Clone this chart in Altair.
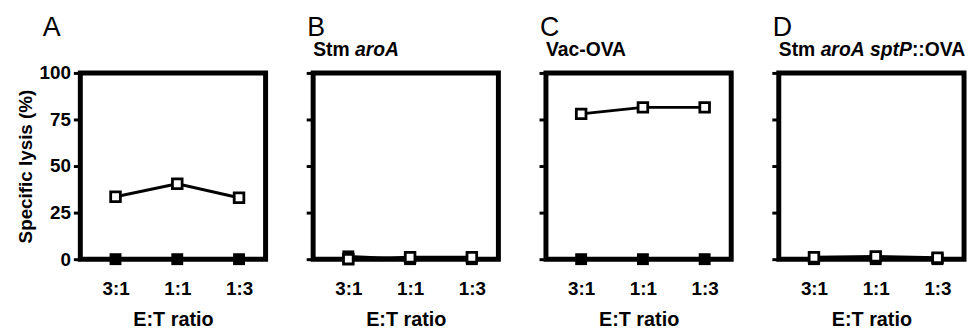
import altair as alt
import pandas as pd

ratios = ["3:1", "1:1", "1:3"]
panel_letters = ["A", "B", "C", "D"]
open_A = [33.5, 40.5, 33]
filled_A = [0, 0, 0]
open_B = [0, 1, 1]
filled_B = [1.5, 0, 0]
open_C = [78, 81.5, 81.5]
filled_C = [0, 0, 0]
open_D = [1, 1.5, 0.8]
filled_D = [0, 0, 0]
y_ticks = [0, 25, 50, 75, 100]

# subtitle pieces: (text, italic)
subtitles = [
    [],
    [("Stm ", False), ("aroA", True)],
    [("Vac-OVA", False)],
    [("Stm ", False), ("aroA", True), (" ", False), ("sptP", True), ("::OVA", False)],
]

FONT = "Liberation Sans"
SUB_FS = 19.5
W, H = 187, 188

# Arial/Liberation Sans Bold advance widths (per 1000 em)
ADV = {"S": 667, "t": 333, "m": 889, " ": 278, "a": 556, "r": 389, "o": 611,
       "A": 722, "s": 556, "p": 611, "P": 667, ":": 333, "O": 778, "V": 667,
       "c": 556, "-": 333}


def text_width(s, fs):
    return sum(ADV.get(ch, 556) for ch in s) / 1000 * fs


label_expr = "[" + ",".join("'%s'" % r for r in ratios) + "][datum.value]"


def panel(k, open_vals, filled_vals):
    rows = []
    for i, r in enumerate(ratios):
        rows.append({"idx": i, "ratio": r, "series": "filled", "value": filled_vals[i]})
        rows.append({"idx": i, "ratio": r, "series": "open", "value": open_vals[i]})
    df = pd.DataFrame(rows)
    first = k == 0
    x = alt.X("idx:Q",
              scale=alt.Scale(domain=[-0.57, 2.43], nice=False, zero=False),
              axis=alt.Axis(values=[0, 1, 2], labelExpr=label_expr, ticks=False,
                            domain=False, grid=False, labelPadding=21,
                            title="E:T ratio", titlePadding=11, titleFontSize=20))
    y = alt.Y("value:Q",
              scale=alt.Scale(domain=[0, 100], nice=False),
              axis=alt.Axis(values=y_ticks, domain=False, grid=False, ticks=True,
                            tickSize=7, tickWidth=3, tickColor="black",
                            labels=first, labelPadding=3,
                            title="Specific lysis (%)" if first else None,
                            titlePadding=4))
    base = alt.Chart(df).encode(x=x, y=y)
    filled = base.transform_filter(alt.datum.series == "filled")
    opened = base.transform_filter(alt.datum.series == "open")
    layers = [
        filled.mark_line(color="black", strokeWidth=3),
        filled.mark_point(shape="square", filled=True, color="black", size=144, opacity=1),
        opened.mark_line(color="black", strokeWidth=3),
        opened.mark_point(shape="square", filled=True, fill="white", stroke="black",
                          strokeWidth=2.8, size=95, opacity=1),
    ]
    # panel letter
    lx = -38 if first else -6
    layers.append(
        alt.Chart(pd.DataFrame({"t": [panel_letters[k]]})).mark_text(
            align="left", baseline="alphabetic", font=FONT, fontSize=27,
            fontWeight="normal", color="black"
        ).encode(x=alt.value(lx), y=alt.value(-37), text="t:N")
    )
    # subtitle
    xo = 0
    for txt, ital in subtitles[k]:
        layers.append(
            alt.Chart(pd.DataFrame({"t": [txt]})).mark_text(
                align="left", baseline="alphabetic", font=FONT, fontSize=SUB_FS,
                fontWeight="bold", fontStyle="italic" if ital else "normal",
                color="black"
            ).encode(x=alt.value(xo), y=alt.value(-17), text="t:N")
        )
        xo += text_width(txt, SUB_FS)
    return alt.layer(*layers).properties(width=W, height=H)


data_sets = [(open_A, filled_A), (open_B, filled_B), (open_C, filled_C), (open_D, filled_D)]
chart = alt.hconcat(
    *[panel(k, o, f) for k, (o, f) in enumerate(data_sets)],
    spacing=48, bounds="flush"
).configure_view(
    stroke="black", strokeWidth=5
).configure_axis(
    labelFont=FONT, labelFontSize=19, labelFontWeight="bold", labelColor="black",
    titleFont=FONT, titleFontSize=19, titleFontWeight="bold", titleColor="black",
).properties(padding={"left": 5, "top": 2, "right": 0, "bottom": 0})

chart.save("out.html", embed_options={"renderer": "svg", "actions": False})
